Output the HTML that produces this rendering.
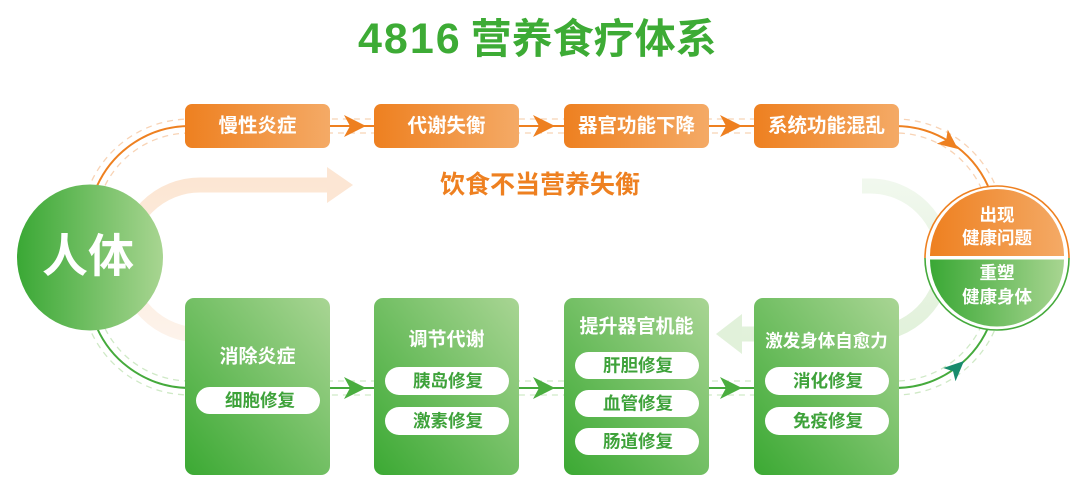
<!DOCTYPE html>
<html><head><meta charset="utf-8"><style>
html,body{margin:0;padding:0;background:#fff;}
svg{display:block;}
text{font-family:"Liberation Sans","Noto Sans CJK SC",sans-serif;font-weight:bold;}
</style></head><body>
<svg width="1080" height="494" viewBox="0 0 1080 494" xmlns="http://www.w3.org/2000/svg">
<defs>
<linearGradient id="og" x1="0" y1="0" x2="1" y2="0"><stop offset="0" stop-color="#ee8020"/><stop offset="1" stop-color="#f4aa66"/></linearGradient>
<linearGradient id="gb" x1="0" y1="1" x2="1" y2="0"><stop offset="0" stop-color="#3ba933"/><stop offset="1" stop-color="#a9d594"/></linearGradient>
<linearGradient id="gc" x1="0" y1="0" x2="1" y2="0"><stop offset="0" stop-color="#3aa835"/><stop offset="1" stop-color="#a8d591"/></linearGradient>
<linearGradient id="pb" gradientUnits="userSpaceOnUse" x1="0" y1="180" x2="0" y2="340"><stop offset="0" stop-color="#fce6d3"/><stop offset="1" stop-color="#fdf3eb"/></linearGradient>
<linearGradient id="gband" gradientUnits="userSpaceOnUse" x1="0" y1="180" x2="0" y2="340"><stop offset="0" stop-color="#f1f8ee"/><stop offset="1" stop-color="#e1f1da"/></linearGradient>
</defs>

<!-- Title -->
<text x="358" y="53" fill="#3dab35"><tspan font-size="43" letter-spacing="2">4816</tspan><tspan font-size="41" dx="9">营养食疗体系</tspan></text>

<!-- faint bands -->
<path d="M 330 185 L 200 185 A 75 75 0 0 0 200 335 L 260 335" fill="none" stroke="url(#pb)" stroke-width="15"/>
<polygon points="327,167 353,185 327,203" fill="#fce6d4"/>
<path d="M 742 334 L 870 334 A 74 74 0 0 0 870 186 L 862 186" fill="none" stroke="url(#gband)" stroke-width="15"/>
<polygon points="742,314 716,334 742,354" fill="#e1f1da"/>

<!-- dashed lines -->
<g fill="none" stroke-width="1.3" stroke-dasharray="6 5">
<path d="M 87.6 190.7 A 109 109 0 0 1 190 119 L 895 119 A 109 109 0 0 1 997.4 190.7" stroke="#f8d3b5"/>
<path d="M 100.7 195.5 A 95 95 0 0 1 190 133 L 895 133 A 95 95 0 0 1 984.3 195.5" stroke="#f8d3b5"/>
<path d="M 87.6 323.3 A 109 109 0 0 0 190 395 L 895 395 A 109 109 0 0 0 997.4 323.3" stroke="#cfe9c6"/>
<path d="M 100.7 318.5 A 95 95 0 0 0 190 381 L 895 381 A 95 95 0 0 0 984.3 318.5" stroke="#cfe9c6"/>
</g>

<!-- main lines -->
<path d="M 97 186 A 102 102 0 0 1 190 126 L 895 126 A 102 102 0 0 1 988 186" fill="none" stroke="#ee8020" stroke-width="2"/>
<path d="M 97 328 A 102 102 0 0 0 190 388 L 895 388 A 102 102 0 0 0 988 328" fill="none" stroke="#45aa3c" stroke-width="2"/>

<!-- body circle -->
<circle cx="90" cy="257.5" r="73" fill="url(#gc)"/>
<text x="88" y="256" font-size="46" fill="#fff" text-anchor="middle" dominant-baseline="central">人体</text>

<!-- orange boxes -->
<g>
<rect x="185" y="104" width="145" height="44" rx="7" fill="url(#og)"/>
<rect x="374" y="104" width="145" height="44" rx="7" fill="url(#og)"/>
<rect x="564" y="104" width="145" height="44" rx="7" fill="url(#og)"/>
<rect x="754" y="104" width="145" height="44" rx="7" fill="url(#og)"/>
</g>
<g font-size="19.5" fill="#fff" text-anchor="middle" dominant-baseline="central">
<text x="257.5" y="126">慢性炎症</text>
<text x="446.5" y="126">代谢失衡</text>
<text x="636.5" y="126">器官功能下降</text>
<text x="826.5" y="126">系统功能混乱</text>
</g>

<!-- orange arrows -->
<g fill="#ee8020">
<path d="M0 0 L-22 -11 L-16 0 L-22 11 Z" transform="translate(366,126)"/>
<path d="M0 0 L-22 -11 L-16 0 L-22 11 Z" transform="translate(555,126)"/>
<path d="M0 0 L-22 -11 L-16 0 L-22 11 Z" transform="translate(742,126)"/>
<path d="M0 0 L-20 -9 L-15 0 L-20 9 Z" transform="translate(958,149) rotate(38)"/>
</g>

<text x="540" y="185" font-size="25" fill="#ee8020" text-anchor="middle" dominant-baseline="central">饮食不当营养失衡</text>

<!-- green boxes -->
<g>
<rect x="185" y="298" width="145" height="177" rx="9" fill="url(#gb)"/>
<rect x="374" y="298" width="145" height="177" rx="9" fill="url(#gb)"/>
<rect x="564" y="298" width="145" height="177" rx="9" fill="url(#gb)"/>
<rect x="754" y="298" width="145" height="177" rx="9" fill="url(#gb)"/>
</g>
<g font-size="19" fill="#fff" text-anchor="middle" dominant-baseline="central">
<text x="257.5" y="357">消除炎症</text>
<text x="446.5" y="340">调节代谢</text>
<text x="636.5" y="327">提升器官机能</text>
<text x="826.5" y="341" font-size="17.5">激发身体自愈力</text>
</g>
<!-- pills -->
<g fill="#fff">
<rect x="196" y="387" width="124" height="27" rx="13.5"/>
<rect x="385" y="367" width="124" height="28" rx="14"/>
<rect x="385" y="407" width="124" height="28" rx="14"/>
<rect x="575" y="352" width="124" height="27" rx="13.5"/>
<rect x="575" y="390" width="124" height="27" rx="13.5"/>
<rect x="575" y="428" width="124" height="27" rx="13.5"/>
<rect x="765" y="367" width="124" height="28" rx="14"/>
<rect x="765" y="407" width="124" height="28" rx="14"/>
</g>
<g font-size="17.5" fill="#3ea23a" text-anchor="middle" dominant-baseline="central">
<text x="260" y="400.5">细胞修复</text>
<text x="448" y="381">胰岛修复</text>
<text x="448" y="421">激素修复</text>
<text x="638" y="365.5">肝胆修复</text>
<text x="638" y="403.5">血管修复</text>
<text x="638" y="441.5">肠道修复</text>
<text x="828" y="381">消化修复</text>
<text x="828" y="421">免疫修复</text>
</g>

<!-- green arrows -->
<g fill="#4aad3f">
<path d="M0 0 L-22 -11 L-16 0 L-22 11 Z" transform="translate(366,388)"/>
<path d="M0 0 L-22 -11 L-16 0 L-22 11 Z" transform="translate(555,388)"/>
<path d="M0 0 L-22 -11 L-16 0 L-22 11 Z" transform="translate(742,388)"/>
</g>
<path d="M0 0 L-20 -9 L-15 0 L-20 9 Z" fill="#178c6c" transform="translate(964,361) rotate(-43)"/>

<!-- right circle -->
<circle cx="997" cy="258" r="72" fill="#fff"/>
<path d="M 925 258 A 72 72 0 0 1 1069 258" fill="none" stroke="#ee8020" stroke-width="1.6"/>
<path d="M 925 258 A 72 72 0 0 0 1069 258" fill="none" stroke="#45aa3c" stroke-width="1.6"/>
<path d="M 930 256 A 67 67 0 0 1 1064 256 Z" fill="url(#og)"/>
<path d="M 930 259.5 A 67 67 0 0 0 1064 259.5 Z" fill="url(#gc)"/>
<g font-size="17.5" fill="#fff" text-anchor="middle" dominant-baseline="central">
<text x="997" y="215">出现</text>
<text x="997" y="238">健康问题</text>
<text x="997" y="273">重塑</text>
<text x="997" y="297">健康身体</text>
</g>
</svg>
</body></html>
